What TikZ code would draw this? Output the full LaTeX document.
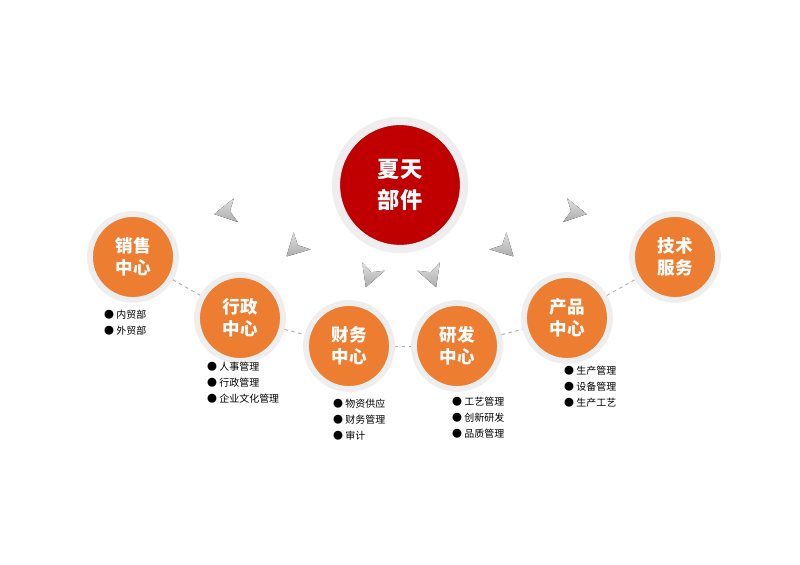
\documentclass[tikz,border=0pt]{standalone}
\usepackage{fontspec}
\setmainfont{Noto Sans CJK SC}
\usetikzlibrary{positioning}
\definecolor{deptorange}{RGB}{237,125,49}
\definecolor{topred}{RGB}{192,0,0}
\definecolor{ringgray}{RGB}{238,238,238}
\tikzset{
  dept/.style={circle, fill=deptorange, draw=ringgray, line width=5pt, minimum size=86\pxu,
    text=white, font=\bfseries\fontsize{15}{19}\selectfont, align=center, inner sep=0pt},
  top/.style={circle, fill=topred, draw=ringgray, line width=7pt, minimum size=128\pxu,
    text=white, font=\bfseries\fontsize{19}{26}\selectfont, align=center, inner sep=0pt},
  link/.style={draw=gray!60, dashed, line width=0.8pt},
  items/.style={align=left, anchor=north west, font=\fontsize{8.5}{13.5}\selectfont, inner sep=0pt},
  pics/chev/.style={code={
    \fill[top color=gray!25, bottom color=gray!65] (12,0) -- (-10,-12) -- (-4,0) -- (-10,12) -- cycle;}}
}
\newlength{\pxu}
\setlength{\pxu}{0.03cm}
\begin{document}
\begin{tikzpicture}[x=0.03cm,y=-0.03cm]
\useasboundingbox (0,0) rectangle (800,565);
% top node
\node[top] (summer) at (400,185) {夏天\\部件};
% department nodes
\node[dept] (sales) at (133,257) {销售\\中心};
\node[dept] (admin) at (240,318) {行政\\中心};
\node[dept] (fin) at (349,346) {财务\\中心};
\node[dept] (rnd) at (457,346) {研发\\中心};
\node[dept] (prod) at (567,318) {产品\\中心};
\node[dept] (tech) at (675,257) {技术\\服务};
% dashed links
\foreach \a/\b in {sales/admin,admin/fin,fin/rnd,rnd/prod,prod/tech}
\draw[link] (\a) -- (\b);
% arrows
\foreach \px/\py/\ang in {226/212/190,295/248/225,370/276/250,432/276/290,505/248/315,575/212/350}
\pic[rotate=\ang] at (\px,\py) {chev};
% item lists
\node[items] (salesitems) at (104,310) {● 内贸部\\● 外贸部};
\node[items] (adminitems) at (207,362) {● 人事管理\\● 行政管理\\● 企业文化管理};
\node[items] (finitems) at (333,399) {● 物资供应\\● 财务管理\\● 审计};
\node[items] (rnditems) at (452,397) {● 工艺管理\\● 创新研发\\● 品质管理};
\node[items] (proditems) at (564,366) {● 生产管理\\● 设备管理\\● 生产工艺};
\end{tikzpicture}
\end{document}
